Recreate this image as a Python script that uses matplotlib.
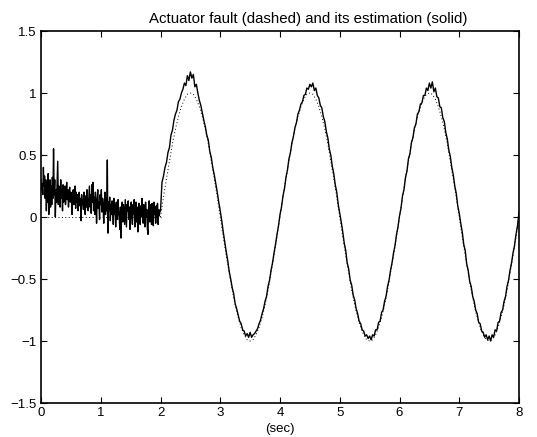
import numpy as np
import matplotlib
matplotlib.use("Agg")
import matplotlib.pyplot as plt

plt.rcParams['font.family'] = ['Liberation Sans', 'DejaVu Sans']

title = "Actuator fault (dashed) and its estimation (solid)"
xlabel = "(sec)"
xticks = [0, 1, 2, 3, 4, 5, 6, 7, 8]
yticks = [-1.5, -1, -0.5, 0, 0.5, 1, 1.5]
ytick_labels = ["\u22121.5", "\u22121", "\u22120.5", "0", "0.5", "1", "1.5"]

# Actuator fault (dotted): zero until t=2, samples every 0.05 s from 2 to 8
fault_pre_t = [0.0, 2.0]
fault_pre = [0.0, 0.0]
fault_dt = 0.05
fault_start = 2.0
fault = [0.00, 0.16, 0.31, 0.45, 0.59, 0.71, 0.81, 0.89, 0.95, 0.99,
         1.00, 0.99, 0.95, 0.89, 0.81, 0.71, 0.59, 0.45, 0.31, 0.16,
         0.00, -0.16, -0.31, -0.45, -0.59, -0.71, -0.81, -0.89, -0.95, -0.99,
         -1.00, -0.99, -0.95, -0.89, -0.81, -0.71, -0.59, -0.45, -0.31, -0.16,
         0.00, 0.16, 0.31, 0.45, 0.59, 0.71, 0.81, 0.89, 0.95, 0.99,
         1.00, 0.99, 0.95, 0.89, 0.81, 0.71, 0.59, 0.45, 0.31, 0.16,
         0.00, -0.16, -0.31, -0.45, -0.59, -0.71, -0.81, -0.89, -0.95, -0.99,
         -1.00, -0.99, -0.95, -0.89, -0.81, -0.71, -0.59, -0.45, -0.31, -0.16,
         0.00, 0.16, 0.31, 0.45, 0.59, 0.71, 0.81, 0.89, 0.95, 0.99,
         1.00, 0.99, 0.95, 0.89, 0.81, 0.71, 0.59, 0.45, 0.31, 0.16,
         0.00, -0.16, -0.31, -0.45, -0.59, -0.71, -0.81, -0.89, -0.95, -0.99,
         -1.00, -0.99, -0.95, -0.89, -0.81, -0.71, -0.59, -0.45, -0.31, -0.16,
         0.00]

# Estimation (solid), part 1: 0 to 1.99 s every 0.01 s
est1_dt = 0.01
est1 = [0.30, 0.22, 0.27, 0.18, 0.40, 0.25, 0.33, 0.15, 0.30, 0.05,
        0.28, 0.12, 0.35, 0.02, 0.20, 0.30, 0.08, 0.25, 0.10, 0.32,
        0.15, 0.55, 0.18, 0.30, 0.00, 0.22, 0.12, 0.28, 0.45, 0.10,
        0.25, 0.18, 0.08, 0.30, 0.15, 0.22, 0.05, 0.26, 0.12, 0.20,
        0.25, 0.10, 0.18, 0.28, 0.14, 0.22, 0.08, 0.19, 0.24, 0.12,
        0.20, 0.15, 0.02, 0.18, 0.22, 0.10, 0.16, 0.25, 0.07, 0.20,
        0.12, 0.18, 0.05, 0.14, 0.20, 0.09, 0.15, -0.03, 0.18, 0.10,
        0.14, 0.06, 0.20, 0.12, 0.02, 0.17, 0.08, 0.22, 0.10, 0.05,
        0.15, 0.25, 0.08, 0.18, 0.03, 0.26, 0.12, 0.28, 0.05, 0.16,
        0.02, 0.20, 0.10, -0.05, 0.15, 0.22, 0.07, 0.12, -0.02, 0.18,
        0.10, 0.22, 0.04, 0.15, 0.08, -0.05, 0.12, 0.20, 0.02, 0.15,
        0.05, 0.46, -0.13, 0.12, 0.05, 0.16, -0.03, 0.10, 0.02, 0.13,
        0.06, -0.06, 0.15, 0.02, 0.10, -0.08, 0.12, 0.04, -0.02, 0.14,
        0.05, 0.00, -0.10, 0.08, -0.17, 0.06, 0.12, -0.04, 0.10, 0.02,
        -0.06, 0.14, 0.03, -0.08, 0.10, 0.05, 0.13, -0.02, 0.08, -0.10,
        0.06, 0.12, 0.00, -0.06, 0.10, 0.02, 0.14, -0.08, 0.05, 0.12,
        -0.04, 0.08, -0.12, 0.03, 0.11, 0.04, -0.06, 0.09, 0.00, 0.15,
        0.02, -0.05, 0.10, 0.04, -0.08, 0.12, 0.00, 0.06, -0.09, -0.14,
        0.07, 0.13, -0.04, 0.05, 0.10, -0.06, 0.11, 0.03, -0.07, 0.12,
        0.02, 0.08, -0.05, 0.09, 0.00, 0.11, -0.06, 0.06, 0.01, 0.05]

# Estimation (solid), part 2: 2.0 to 8.0 s every 0.025 s
est2_dt = 0.025
est2_start = 2.0
est2 = [0.05,
        0.28, 0.33, 0.40, 0.44, 0.52, 0.56, 0.66, 0.70, 0.78, 0.83,
        0.86, 0.93, 0.95, 1.00, 1.03, 1.08, 1.06, 1.14, 1.10, 1.17,
        1.12, 1.15, 1.05, 1.07, 1.00, 0.94, 0.90, 0.84, 0.78, 0.73,
        0.66, 0.62, 0.53, 0.48, 0.40, 0.34, 0.27, 0.20, 0.12, 0.05,
        -0.03, -0.12, -0.20, -0.28, -0.35, -0.44, -0.50, -0.57, -0.62, -0.70,
        -0.74, -0.79, -0.84, -0.86, -0.91, -0.92, -0.96, -0.94, -0.97, -0.93,
        -0.97, -0.95, -0.94, -0.92, -0.90, -0.86, -0.83, -0.78, -0.74, -0.68,
        -0.64, -0.56, -0.51, -0.43, -0.37, -0.29, -0.22, -0.14, -0.07, 0.02,
        0.08, 0.17, 0.23, 0.32, 0.38, 0.47, 0.52, 0.60, 0.65, 0.72,
        0.76, 0.83, 0.86, 0.91, 0.93, 0.98, 0.99, 1.04, 1.03, 1.07,
        1.05, 1.08, 1.02, 1.04, 0.98, 0.96, 0.90, 0.88, 0.81, 0.77,
        0.69, 0.64, 0.55, 0.50, 0.41, 0.35, 0.26, 0.20, 0.10, 0.03,
        -0.04, -0.12, -0.21, -0.27, -0.37, -0.42, -0.51, -0.55, -0.63, -0.67,
        -0.74, -0.78, -0.84, -0.86, -0.91, -0.92, -0.96, -0.95, -0.98, -0.96,
        -0.99, -0.95, -0.96, -0.91, -0.91, -0.85, -0.84, -0.77, -0.75, -0.68,
        -0.64, -0.56, -0.51, -0.43, -0.37, -0.29, -0.23, -0.14, -0.08, 0.01,
        0.07, 0.17, 0.22, 0.32, 0.37, 0.47, 0.51, 0.60, 0.64, 0.72,
        0.75, 0.83, 0.85, 0.91, 0.92, 0.98, 0.98, 1.04, 1.02, 1.08,
        1.04, 1.09, 1.01, 1.04, 0.97, 0.96, 0.89, 0.88, 0.80, 0.77,
        0.68, 0.63, 0.54, 0.49, 0.40, 0.34, 0.25, 0.19, 0.09, 0.03,
        -0.05, -0.12, -0.22, -0.27, -0.38, -0.43, -0.52, -0.56, -0.64, -0.68,
        -0.75, -0.78, -0.85, -0.86, -0.92, -0.93, -0.97, -0.95, -0.99, -0.96,
        -1.00, -0.95, -0.97, -0.91, -0.92, -0.85, -0.84, -0.77, -0.75, -0.68,
        -0.64, -0.56, -0.51, -0.43, -0.37, -0.29, -0.23, -0.14, -0.07, 0.04]

fault_t = fault_start + fault_dt * np.arange(len(fault))
est1_t = est1_dt * np.arange(len(est1))
est2_t = est2_start + est2_dt * np.arange(len(est2))
est_t = np.concatenate([est1_t, est2_t])
est = np.concatenate([est1, est2])

fig = plt.figure(figsize=(5.37, 4.37), dpi=100)
ax = fig.add_axes([41 / 537, 1 - 403 / 437, 478 / 537, 372 / 437])

ax.plot(fault_pre_t, fault_pre, color='black', linestyle=(0, (1, 2.5)), linewidth=0.7)
ax.plot(fault_t, fault, color='black', linestyle=(0, (1, 2.5)), linewidth=0.7)
ax.plot(est_t, est, color='black', linewidth=1.0)

ax.set_xlim(0, 8)
ax.set_ylim(-1.5, 1.5)
ax.set_xticks(xticks)
ax.set_xticklabels([str(v) for v in xticks])
ax.set_yticks(yticks)
ax.set_yticklabels(ytick_labels)
ax.tick_params(direction='in', top=True, right=True, length=4, width=0.8,
               labelsize=9.5, pad=3)
for s in ax.spines.values():
    s.set_linewidth(1.2)
ax.set_title(title, fontsize=10.8, pad=6, x=0.559)
ax.set_xlabel(xlabel, fontsize=9.5, labelpad=3)

fig.savefig("out.png", dpi=100)
